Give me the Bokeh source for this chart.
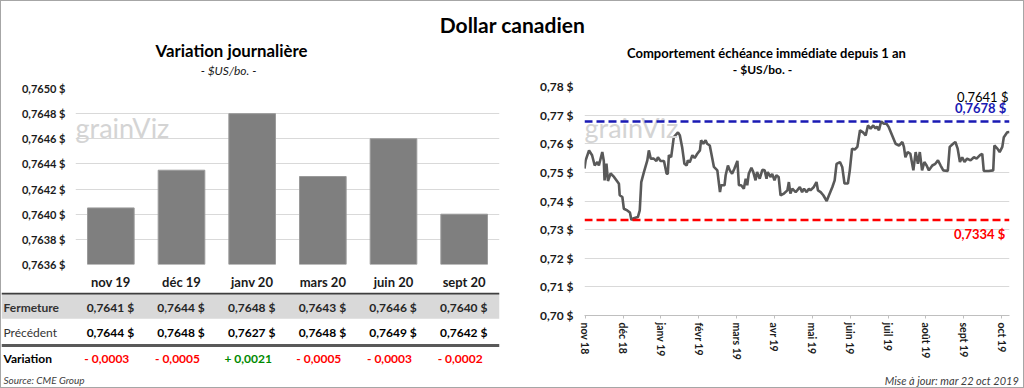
from bokeh.plotting import figure
from bokeh.models import (ColumnDataSource, FactorRange, Range1d, FixedTicker,
                          CustomJSTickFormatter, Label, Span)
from bokeh.layouts import column, row
from bokeh.embed import file_html
from bokeh.resources import INLINE
from bokeh.core.properties import value

FONT = "Lato"

# ---------------- data ----------------
echeances = ["nov 19", "déc 19", "janv 20", "mars 20", "juin 20", "sept 20"]
cloture_barres = [0.76405, 0.76435, 0.7648, 0.7643, 0.7646, 0.7640]
fermeture = [0.7641, 0.7644, 0.7648, 0.7643, 0.7646, 0.7640]
precedent = [0.7644, 0.7648, 0.7627, 0.7648, 0.7649, 0.7642]
variation = [-0.0003, -0.0005, 0.0021, -0.0005, -0.0003, -0.0002]
ticks_gauche = [0.7636, 0.7638, 0.7640, 0.7642, 0.7644, 0.7646, 0.7648, 0.7650]

mois_labels = ["nov 18", "déc 18", "janv 19", "févr 19", "mars 19", "avr 19",
               "mai 19", "juin 19", "juil 19", "août 19", "sept 19", "oct 19"]
ticks_droite = [0.70, 0.71, 0.72, 0.73, 0.74, 0.75, 0.76, 0.77, 0.78]
# time position in months from the "nov 18" tick
t_mois = [-0.02, 0.01, 0.10, 0.18, 0.25, 0.32, 0.36, 0.45, 0.49, 0.51,
          0.56, 0.60, 0.67, 0.76, 0.89, 0.91, 0.98, 1.02, 1.11, 1.18,
          1.22, 1.28, 1.39, 1.44, 1.48, 1.55, 1.64, 1.68, 1.73, 1.81,
          1.88, 1.92, 1.99, 2.08, 2.15, 2.18, 2.21, 2.27, 2.34, 2.45,
          2.50, 2.56, 2.62, 2.68, 2.71, 2.76, 2.83, 2.89, 2.96, 3.03,
          3.06, 3.12, 3.18, 3.22, 3.29, 3.40, 3.49, 3.56, 3.59, 3.68,
          3.71, 3.77, 3.82, 3.88, 3.94, 4.02, 4.06, 4.12, 4.19, 4.24,
          4.28, 4.32, 4.39, 4.44, 4.50, 4.54, 4.61, 4.68, 4.74, 4.79,
          4.82, 4.90, 4.94, 5.00, 5.05, 5.11, 5.16, 5.25, 5.34, 5.38,
          5.42, 5.47, 5.56, 5.60, 5.67, 5.73, 5.78, 5.85, 5.91, 5.95,
          6.04, 6.11, 6.15, 6.22, 6.29, 6.38, 6.44, 6.53, 6.59, 6.64,
          6.73, 6.79, 6.85, 6.94, 6.99, 7.05, 7.12, 7.19, 7.26, 7.34,
          7.41, 7.47, 7.54, 7.61, 7.67, 7.71, 7.76, 7.82, 7.89, 7.96,
          8.02, 8.11, 8.20, 8.29, 8.38, 8.42, 8.46, 8.52, 8.59, 8.67,
          8.73, 8.79, 8.84, 8.90, 8.96, 9.02, 9.08, 9.17, 9.25, 9.32,
          9.39, 9.46, 9.58, 9.63, 9.72, 9.78, 9.84, 9.90, 9.96, 10.02,
          10.09, 10.18, 10.27, 10.34, 10.43, 10.49, 10.53, 10.66, 10.78, 10.81,
          10.89, 10.95, 11.02, 11.06, 11.15, 11.21]
cad = [0.7513, 0.7542, 0.7577, 0.7560, 0.7524, 0.7536, 0.7524, 0.7571, 0.7540, 0.7472,
       0.7531, 0.7470, 0.7496, 0.7484, 0.7460, 0.7420, 0.7414, 0.7373, 0.7367, 0.7360,
       0.7334, 0.7340, 0.7344, 0.7367, 0.7466, 0.7501, 0.7542, 0.7577, 0.7548, 0.7548,
       0.7540, 0.7553, 0.7540, 0.7540, 0.7495, 0.7495, 0.7560, 0.7553, 0.7623, 0.7640,
       0.7629, 0.7588, 0.7530, 0.7524, 0.7542, 0.7535, 0.7560, 0.7550, 0.7565, 0.7577,
       0.7612, 0.7600, 0.7612, 0.7600, 0.7594, 0.7519, 0.7507, 0.7431, 0.7455, 0.7455,
       0.7490, 0.7524, 0.7507, 0.7495, 0.7513, 0.7540, 0.7455, 0.7455, 0.7443, 0.7478,
       0.7455, 0.7495, 0.7516, 0.7501, 0.7472, 0.7501, 0.7478, 0.7509, 0.7507, 0.7478,
       0.7501, 0.7484, 0.7495, 0.7472, 0.7490, 0.7484, 0.7420, 0.7426, 0.7437, 0.7466,
       0.7426, 0.7443, 0.7431, 0.7437, 0.7449, 0.7431, 0.7443, 0.7431, 0.7443, 0.7437,
       0.7449, 0.7466, 0.7437, 0.7431, 0.7420, 0.7400, 0.7420, 0.7449, 0.7472, 0.7530,
       0.7536, 0.7519, 0.7461, 0.7461, 0.7507, 0.7583, 0.7580, 0.7589, 0.7647, 0.7640,
       0.7629, 0.7664, 0.7653, 0.7664, 0.7653, 0.7660, 0.7647, 0.7678, 0.7670, 0.7670,
       0.7658, 0.7629, 0.7600, 0.7594, 0.7606, 0.7589, 0.7553, 0.7571, 0.7565, 0.7507,
       0.7571, 0.7530, 0.7571, 0.7507, 0.7536, 0.7524, 0.7507, 0.7524, 0.7530, 0.7542,
       0.7524, 0.7507, 0.7505, 0.7589, 0.7600, 0.7606, 0.7583, 0.7536, 0.7553, 0.7536,
       0.7548, 0.7542, 0.7553, 0.7548, 0.7560, 0.7565, 0.7505, 0.7505, 0.7507, 0.7594,
       0.7583, 0.7571, 0.7589, 0.7623, 0.7640, 0.7641]
haut_1an = 0.7678
bas_1an = 0.7334


def fmt4(v):
    return f"{v:.4f}".replace(".", ",")


def common(p):
    p.outline_line_color = None
    p.background_fill_color = "white"
    p.border_fill_color = "white"
    try:
        p.frame_align = False
    except Exception:
        pass


def strip(w, h):
    s = figure(width=w, height=h, x_axis_type=None, y_axis_type=None,
               toolbar_location=None, output_backend="svg", min_border=0, title=None)
    common(s)
    s.xgrid.visible = False
    s.ygrid.visible = False
    return s


def lab(p, x, y, text, size, style="normal", color="#000000", align="center",
        baseline="middle"):
    p.add_layout(Label(x=x, y=y, x_units="screen", y_units="screen", text=text,
                       text_align=align, text_baseline=baseline, text_font=FONT,
                       text_font_size=size, text_font_style=style, text_color=color))


# ---------------- header strip (all titles) ----------------
TOT_W = 1022
HEAD_H = 77
head = strip(TOT_W, HEAD_H)
lab(head, 511, 54, "Dollar canadien", "21px", "bold")
lab(head, 230, 28.5, "Variation journalière", "16.8px", "bold")
lab(head, 227, 8.5, "- $US/bo. -", "12px", "italic", "#1a1a1a")
lab(head, 765, 25.5, "Comportement échéance immédiate depuis 1 an", "13px", "bold")
lab(head, 761, 9.5, "- $US/bo. -", "12px", "bold")

# ---------------- left: bar chart ----------------
LW = 505
P1_H = 214
p1 = figure(width=LW, height=P1_H, x_range=FactorRange(*echeances),
            y_range=Range1d(0.7636, 0.7650), toolbar_location=None,
            output_backend="svg", title=None,
            min_border_left=74, min_border_right=7, min_border_top=10,
            min_border_bottom=P1_H - 10 - 177)
common(p1)
lab(p1, 0, 137, "grainViz", "27px", "normal", "#d4d4d4", "left", "alphabetic")
p1.vbar(x=echeances, top=cloture_barres, bottom=0.7636, width=0.66,
        fill_color="#7f7f7f", line_color="#9a9a9a", line_width=1)
p1.xgrid.visible = False
p1.ygrid.grid_line_color = "#d9d9d9"
p1.yaxis.ticker = FixedTicker(ticks=ticks_gauche)
p1.yaxis.formatter = CustomJSTickFormatter(code="return tick.toFixed(4).replace('.', ',') + ' $';")
for ax in (p1.xaxis[0], p1.yaxis[0]):
    ax.axis_line_color = None
    ax.major_tick_line_color = None
    ax.minor_tick_line_color = None
    ax.major_tick_in = 0
    ax.major_tick_out = 0
    ax.minor_tick_in = 0
    ax.minor_tick_out = 0
    ax.major_label_text_font = FONT
    ax.major_label_text_font_style = "bold"
    ax.major_label_text_color = "#1a1a1a"
p1.yaxis.major_label_text_font_size = "11px"
p1.yaxis.major_label_standoff = 10
p1.xaxis.major_label_text_font_size = "13px"
p1.xaxis.major_label_standoff = 9

# ---------------- left: table ----------------
TH = 95
cat_w = 424 / 6.0
x_start = -74 / cat_w
ptab = figure(width=LW, height=TH, x_range=Range1d(x_start, 6), y_range=Range1d(TH, 0),
              x_axis_type=None, y_axis_type=None, toolbar_location=None,
              output_backend="svg", title=None, min_border=0,
              min_border_left=0, min_border_top=0, min_border_bottom=0, min_border_right=7)
common(ptab)
ptab.xgrid.visible = False
ptab.ygrid.visible = False
ptab.quad(left=x_start, right=6, top=1, bottom=26.3, fill_color="#d9d9d9", line_color=None)
ptab.add_layout(Span(location=1, dimension="width", line_color="#3f3f3f", line_width=2))
ptab.add_layout(Span(location=53, dimension="width", line_color="#595959", line_width=3))

xs = [i + 0.5 for i in range(len(echeances))]
src = ColumnDataSource(dict(
    x=xs,
    ferm=[fmt4(v) + "  $" for v in fermeture],
    prec=[fmt4(v) + "  $" for v in precedent],
    var=[("+ " if v > 0 else "- ") + fmt4(abs(v)) for v in variation],
    vcol=["#008a00" if v > 0 else "#ff0000" for v in variation],
))
ROW_Y = [14.7, 39.7, 66.3]
ptab.text(x="x", y=ROW_Y[0], text="ferm", source=src, text_align="center", text_baseline="middle",
          x_offset=1, text_font=value(FONT), text_font_size="12px", text_font_style="bold",
          text_color="#262626")
ptab.text(x="x", y=ROW_Y[1], text="prec", source=src, text_align="center", text_baseline="middle",
          x_offset=1, text_font=value(FONT), text_font_size="12px", text_font_style="bold",
          text_color="#000000")
ptab.text(x="x", y=ROW_Y[2], text="var", source=src, text_align="center", text_baseline="middle",
          x_offset=-4, text_font=value(FONT), text_font_size="12px", text_font_style="bold",
          text_color="vcol")

row_labels = ["Fermeture", "Précédent", "Variation"]
row_style = ["bold", "normal", "bold"]
row_col = ["#333333", "#333333", "#000000"]
for lbl, yy, st, col in zip(row_labels, ROW_Y, row_style, row_col):
    ptab.text(x=[x_start], y=[yy], text=[lbl], x_offset=2, text_align="left",
              text_baseline="middle", text_font=value(FONT), text_font_size="12px",
              text_font_style=st, text_color=col)
lab(ptab, 2, TH - 87.7, "Source: CME Group", "10px", "italic", "#404040", "left")

# ---------------- right: line chart ----------------
RW = TOT_W - LW
FOOT_H = 25
RH = P1_H + TH - FOOT_H
p2 = figure(width=RW, height=RH, x_range=Range1d(t_mois[0], t_mois[-1]),
            y_range=Range1d(0.70, 0.78), toolbar_location=None, output_backend="svg",
            title=None, min_border_left=78, min_border_right=14, min_border_top=8,
            min_border_bottom=RH - 8 - 229)
common(p2)
lab(p2, 0, 188, "grainViz", "27px", "normal", "#d4d4d4", "left", "alphabetic")
p2.xgrid.visible = False
p2.ygrid.grid_line_color = "#d9d9d9"
p2.line(t_mois, cad, line_color="#595959", line_width=2.6)
p2.add_layout(Span(location=haut_1an, dimension="width", line_color="#1a1ab4",
                   line_width=2.5, line_dash="8 4"))
p2.add_layout(Span(location=bas_1an, dimension="width", line_color="#ff0000",
                   line_width=2.5, line_dash="8 4"))

p2.yaxis.ticker = FixedTicker(ticks=ticks_droite)
p2.yaxis.formatter = CustomJSTickFormatter(code="return tick.toFixed(2).replace('.', ',') + ' $';")
p2.yaxis.axis_line_color = None
p2.yaxis.major_tick_line_color = None
p2.yaxis.minor_tick_line_color = None
p2.yaxis.major_tick_in = 0
p2.yaxis.major_tick_out = 0
p2.yaxis.minor_tick_in = 0
p2.yaxis.minor_tick_out = 0
p2.yaxis.major_label_standoff = 11
p2.xaxis.ticker = FixedTicker(ticks=list(range(len(mois_labels))))
p2.xaxis.major_label_overrides = {i: m for i, m in enumerate(mois_labels)}
p2.xaxis.major_label_orientation = "vertical"
p2.xaxis.axis_line_color = "#bfbfbf"
p2.xaxis.major_tick_line_color = "#bfbfbf"
p2.xaxis.major_tick_in = 0
p2.xaxis.major_tick_out = 3
p2.xaxis.minor_tick_line_color = None
p2.xaxis.major_label_standoff = 4
for ax in (p2.xaxis[0], p2.yaxis[0]):
    ax.major_label_text_font = FONT
    ax.major_label_text_font_style = "bold"
    ax.major_label_text_color = "#1a1a1a"
p2.yaxis.major_label_text_font_size = "12px"
p2.xaxis.major_label_text_font_size = "10.5px"

p2.add_layout(Label(x=t_mois[-1], y=cad[-1], text=fmt4(cad[-1]) + " $", x_offset=-1,
                    y_offset=35, text_align="right", text_baseline="middle",
                    text_font=FONT, text_font_size="13px", text_color="#000000"))
p2.add_layout(Label(x=t_mois[-1], y=haut_1an, text=fmt4(haut_1an) + "  $", x_offset=0,
                    y_offset=5, text_align="right", text_baseline="bottom",
                    text_font=FONT, text_font_size="13px", text_font_style="bold",
                    text_color="#1a1ab4"))
p2.add_layout(Label(x=t_mois[-1], y=bas_1an, text=fmt4(bas_1an) + "  $", x_offset=-1,
                    y_offset=-6, text_align="right", text_baseline="top",
                    text_font=FONT, text_font_size="13px", text_font_style="bold",
                    text_color="#ff0000"))

foot = strip(RW, FOOT_H)
lab(foot, RW - 4.5, 7.5, "Mise à jour: mar 22 oct 2019", "11px", "italic", "#404040", "right")

layout = column(head, row(column(p1, ptab), column(p2, foot)),
                styles={"border": "1px solid #a6a6a6"})

open("out.html", "w").write(file_html(layout, INLINE))
